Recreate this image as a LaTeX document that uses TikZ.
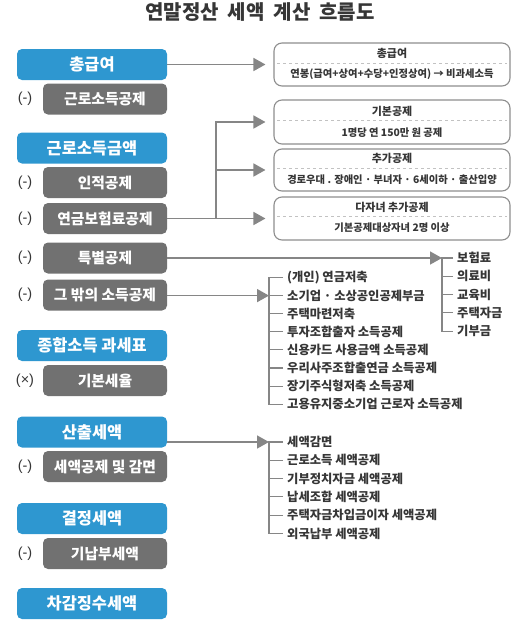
\documentclass[tikz,border=0pt]{standalone}
\usepackage{fontspec}
\setmainfont{Noto Sans CJK KR}
\newfontfamily\latinfont{Liberation Sans}
\usepackage{xcolor}
\usetikzlibrary{arrows.meta}
\definecolor{stepblue}{HTML}{2E97D0}
\definecolor{stepgray}{HTML}{717171}
\definecolor{linegray}{HTML}{868686}
\definecolor{framegray}{HTML}{8E8E8E}
\definecolor{dashgray}{HTML}{C2C2C2}
\definecolor{txtgray}{HTML}{363636}
\newcommand\flowtitle{\fontsize{20}{24}\selectfont\bfseries\spaceskip=0.45em\relax}

\begin{document}
\begin{tikzpicture}[
  x=1pt, y=-1pt,
  stage/.style={minimum width=150pt, minimum height=31pt, fill=stepblue, rounded corners=5pt, text=white, font=\fontsize{16.4}{18}\selectfont\bfseries, inner sep=0pt},
  deduct/.style={minimum width=124pt, minimum height=31pt, fill=stepgray, rounded corners=5pt, text=white, font=\fontsize{14.8}{17}\selectfont\bfseries, inner sep=0pt},
  opsign/.style={font=\latinfont\fontsize{14.5}{16}\selectfont, text=txtgray, inner sep=1pt},
  infobox/.style={minimum width=236pt, draw=framegray, line width=1.1pt, rounded corners=8pt, inner sep=0pt},
  ftitle/.style={font=\fontsize{11}{13}\selectfont\bfseries, text=txtgray, inner sep=1pt},
  fbody/.style={font=\fontsize{10.3}{12}\selectfont\bfseries, text=txtgray, inner sep=1pt},
  dashsep/.style={dashgray, dashed, line width=0.8pt},
  listitem/.style={anchor=west, font=\fontsize{12.3}{14}\selectfont\bfseries, text=txtgray, inner sep=2pt},
  arrow/.style={-{Triangle[length=12pt, width=13pt]}, linegray, line width=1.6pt},
  link/.style={linegray, line width=1.6pt},
  bracket/.style={linegray, line width=1.1pt},
]
\useasboundingbox (0,0) rectangle (517,622);

% Title
\node[font=\flowtitle, text=txtgray] (title) at (260, 12) {연말정산 세액 계산 흐름도};

% Left column: calculation steps
\node[stage] (chong) at (92, 64.5) {총급여};
\node[opsign] (s1) at (25, 99) {(-)};
\node[deduct] (geunded) at (105, 99) {근로소득공제};

\node[stage] (geunamt) at (92, 148) {근로소득금액};
\node[opsign] (s2) at (25, 182.5) {(-)};
\node[deduct] (injeok) at (105, 182.5) {인적공제};
\node[opsign] (s3) at (25, 218.5) {(-)};
\node[deduct] (yeongeum) at (105, 218.5) {연금보험료공제};
\node[opsign] (s4) at (25, 258) {(-)};
\node[deduct] (teukbyeol) at (105, 258) {특별공제};
\node[opsign] (s5) at (25, 295) {(-)};
\node[deduct] (geubakk) at (105, 295) {그 밖의 소득공제};

\node[stage] (gwase) at (92, 345.5) {종합소득 과세표};
\node[opsign] (s6) at (25, 380.5) {(×)};
\node[deduct] (serul) at (105, 380.5) {기본세율};

\node[stage] (sanchul) at (92, 432) {산출세액};
\node[opsign] (s7) at (25, 466.5) {(-)};
\node[deduct] (segam) at (105, 466.5) {세액공제 및 감면};

\node[stage] (gyeol) at (92, 518.5) {결정세액};
\node[opsign] (s8) at (25, 553.5) {(-)};
\node[deduct] (ginap) at (105, 553.5) {기납부세액};

\node[stage] (chagam) at (92, 603.5) {차감징수세액};

% Right boxes
\node[infobox, minimum height=43pt] (chongbox) at (392, 64.5) {};
\node[ftitle] (chongt) at ([yshift=-11pt]chongbox.north) {총급여};
\node[fbody] (chongb) at ([yshift=-32pt]chongbox.north) {연봉(급여+상여+수당+인정상여) → 비과세소득};
\draw[dashsep] ([xshift=4pt, yshift=-20.5pt]chongbox.north west) -- ([xshift=-4pt, yshift=-20.5pt]chongbox.north east);

\node[infobox, minimum height=44pt] (gibonbox) at (392, 122) {};
\node[ftitle] (gibont) at ([yshift=-11.5pt]gibonbox.north) {기본공제};
\node[fbody] (gibonb) at ([yshift=-33pt]gibonbox.north) {1명당 연 150만 원 공제};
\draw[dashsep] ([xshift=4pt, yshift=-21pt]gibonbox.north west) -- ([xshift=-4pt, yshift=-21pt]gibonbox.north east);

\node[infobox, minimum height=42pt] (chugabox) at (392, 170) {};
\node[ftitle] (chugat) at ([yshift=-10pt]chugabox.north) {추가공제};
\node[fbody] (chugab) at ([yshift=-31pt]chugabox.north) {경로우대 . 장애인 · 부녀자 · 6세이하 · 출산입양};
\draw[dashsep] ([xshift=4pt, yshift=-19.5pt]chugabox.north west) -- ([xshift=-4pt, yshift=-19.5pt]chugabox.north east);

\node[infobox, minimum height=43pt] (dajabox) at (392, 218.5) {};
\node[ftitle] (dajat) at ([yshift=-10.5pt]dajabox.north) {다자녀 추가공제};
\node[fbody] (dajab) at ([yshift=-31.5pt]dajabox.north) {기본공제대상자녀 2명 이상};
\draw[dashsep] ([xshift=4pt, yshift=-20pt]dajabox.north west) -- ([xshift=-4pt, yshift=-20pt]dajabox.north east);

% Lists
\node[listitem] (sp1) at (455, 258) {보험료};
\node[listitem] (sp2) at (455, 276.3) {의료비};
\node[listitem] (sp3) at (455, 294.6) {교육비};
\node[listitem] (sp4) at (455, 312.9) {주택자금};
\node[listitem] (sp5) at (455, 331.2) {기부금};

\node[listitem] (ot1) at (285, 277.5) {(개인) 연금저축};
\node[listitem] (ot2) at (285, 295.6) {소기업 · 소상공인공제부금};
\node[listitem] (ot3) at (285, 313.7) {주택마련저축};
\node[listitem] (ot4) at (285, 331.8) {투자조합출자 소득공제};
\node[listitem] (ot5) at (285, 349.9) {신용카드 사용금액 소득공제};
\node[listitem] (ot6) at (285, 368) {우리사주조합출연금 소득공제};
\node[listitem] (ot7) at (285, 386.1) {장기주식형저축 소득공제};
\node[listitem] (ot8) at (285, 404.2) {고용유지중소기업 근로자 소득공제};

\node[listitem] (tx1) at (285, 442) {세액감면};
\node[listitem] (tx2) at (285, 460.3) {근로소득 세액공제};
\node[listitem] (tx3) at (285, 478.6) {기부정치자금 세액공제};
\node[listitem] (tx4) at (285, 496.9) {납세조합 세액공제};
\node[listitem] (tx5) at (285, 515.2) {주택자금차입금이자 세액공제};
\node[listitem] (tx6) at (285, 533.5) {외국납부 세액공제};

% Arrows
\draw[arrow] (chong.east) -- ([xshift=-8pt]chongbox.west);
\coordinate (fork) at (216, 218.5);
\draw[link] (yeongeum.east) -- (fork);
\draw[arrow] (fork) -- ([xshift=-8pt]dajabox.west);
\draw[arrow] (fork) |- ([xshift=-8pt]gibonbox.west);
\draw[arrow] (fork |- chugabox.west) -- ([xshift=-8pt]chugabox.west);

\draw[arrow] (teukbyeol.east) -- ([xshift=-13pt]sp1.west);
\draw[arrow] (geubakk.east |- ot2.west) -- ([xshift=-16pt]ot2.west);
\draw[arrow] (sanchul.east |- tx1.west) -- ([xshift=-16pt]tx1.west);

% Brackets
\draw[bracket] ([xshift=-2pt]sp1.west) -- ++(-11pt,0) |- ([xshift=-2pt]sp5.west)
  ([xshift=-2pt]sp2.west) -- ++(-11pt,0)
  ([xshift=-2pt]sp3.west) -- ++(-11pt,0)
  ([xshift=-2pt]sp4.west) -- ++(-11pt,0);
\draw[bracket] ([xshift=-2pt]ot1.west) -- ++(-14pt,0) |- ([xshift=-2pt]ot8.west)
  ([xshift=-2pt]ot2.west) -- ++(-14pt,0)
  ([xshift=-2pt]ot3.west) -- ++(-14pt,0)
  ([xshift=-2pt]ot4.west) -- ++(-14pt,0)
  ([xshift=-2pt]ot5.west) -- ++(-14pt,0)
  ([xshift=-2pt]ot6.west) -- ++(-14pt,0)
  ([xshift=-2pt]ot7.west) -- ++(-14pt,0);
\draw[bracket] ([xshift=-2pt]tx1.west) -- ++(-14pt,0) |- ([xshift=-2pt]tx6.west)
  ([xshift=-2pt]tx2.west) -- ++(-14pt,0)
  ([xshift=-2pt]tx3.west) -- ++(-14pt,0)
  ([xshift=-2pt]tx4.west) -- ++(-14pt,0)
  ([xshift=-2pt]tx5.west) -- ++(-14pt,0);
\end{tikzpicture}
\end{document}
